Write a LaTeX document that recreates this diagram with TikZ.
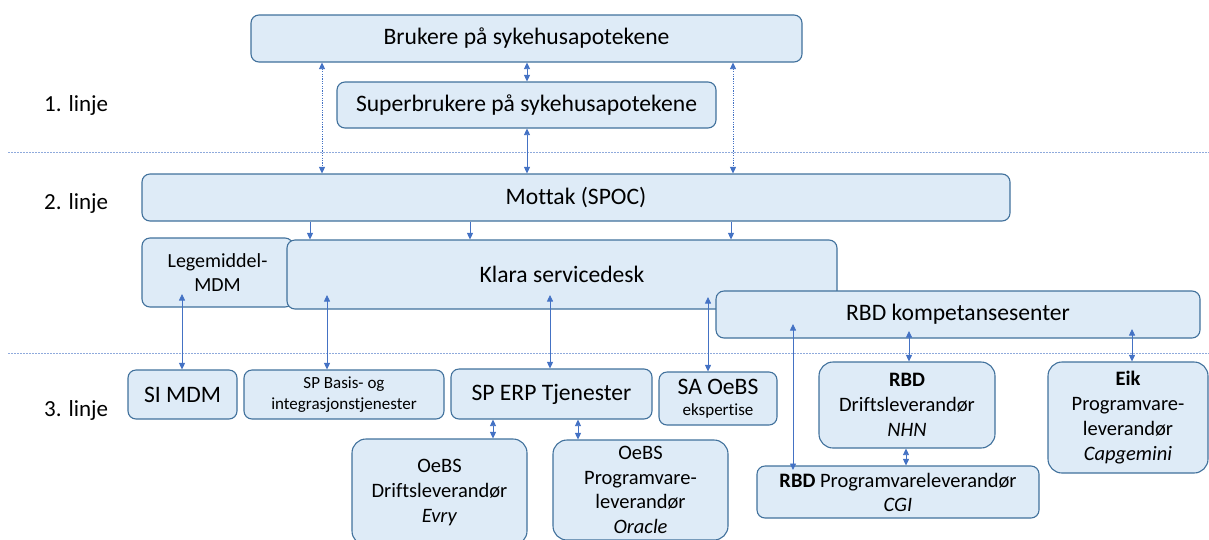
\documentclass[tikz,border=0pt]{standalone}
\usepackage{fontspec}
\setmainfont{Carlito}[Ligatures=NoCommon]
\usetikzlibrary{arrows.meta}
\definecolor{boxfill}{HTML}{DEEBF7}
\definecolor{boxdraw}{HTML}{41719C}
\definecolor{arr}{HTML}{4472C4}
\definecolor{sepc}{HTML}{8FAADC}
\begin{document}
\begin{tikzpicture}[x=1pt,y=-1pt,
  box/.style={draw=boxdraw, fill=boxfill, line width=1.1pt, rounded corners=8pt,
    align=center, inner sep=0pt, font=\fontsize{23.6}{27}\selectfont},
  bigbox/.style={box, rounded corners=14pt, font=\fontsize{20.5}{25}\selectfont},
  link/.style={draw=arr, line width=0.8pt, >={Triangle[length=6.5pt,width=6pt]}},
  both/.style={link,<->},
  one/.style={link,->},
  dots/.style={dash pattern=on 1.2pt off 1.2pt},
  sepline/.style={draw=sepc, line width=0.8pt, dash pattern=on 1.5pt off 1.5pt},
  lbl/.style={anchor=west, inner sep=0pt, font=\fontsize{23}{27}\selectfont}
]
\useasboundingbox (0,0) rectangle (1209,539);
\clip (0,0) rectangle (1209,539);

% separators
\coordinate (s1a) at (8,152); \coordinate (s1b) at (1209,152);
\coordinate (s2a) at (8,353); \coordinate (s2b) at (1209,353);
\draw[sepline] (s1a) -- (s1b);
\draw[sepline] (s2a) -- (s2b);

% level labels
\node[lbl] (l1) at (44,105) {1. linje};
\node[lbl] (l2) at (44,203) {2. linje};
\node[lbl] (l3) at (44,410) {3. linje};

% boxes
\node[box, minimum width=551pt, minimum height=47pt] (bru) at (526.5,38.5) {Brukere på sykehusapotekene};
\node[box, minimum width=379pt, minimum height=46pt] (sup) at (526.5,105) {Superbrukere på sykehusapotekene};
\node[box, minimum width=868pt, minimum height=47pt] (mot) at (576,197.5) {Mottak (SPOC)};
\node[box, minimum width=151pt, minimum height=69pt, font=\fontsize{20}{24}\selectfont] (leg) at (217.5,272.5) {Legemiddel-\\MDM};
\node[box, minimum width=550pt, minimum height=69pt] (kla) at (562,274.5) {Klara servicedesk};
\node[box, minimum width=484pt, minimum height=47pt] (rbdk) at (958,314.5) {RBD kompetansesenter};

\node[box, minimum width=109pt, minimum height=49pt] (simdm) at (182.5,394.5) {SI MDM};
\node[box, minimum width=200pt, minimum height=49pt, font=\fontsize{17}{21}\selectfont] (spb) at (344,394.5) {SP Basis- og\\integrasjonstjenester};
\node[box, minimum width=201pt, minimum height=50pt] (erp) at (551.5,394) {SP ERP Tjenester};
\node[box, minimum width=118pt, minimum height=53pt, font=\fontsize{23.6}{21}\selectfont] (sa) at (718,398.5) {SA OeBS\\{\fontsize{17}{21}\selectfont ekspertise}};

\node[bigbox, minimum width=176pt, minimum height=86pt] (rbdd) at (907,405) {\textbf{RBD}\\Driftsleverandør\\\textit{NHN}};
\node[bigbox, minimum width=160pt, minimum height=111pt] (eik) at (1128,417.5) {\textbf{Eik}\\Programvare-\\leverandør\\\textit{Capgemini}};
\node[box, minimum width=282pt, minimum height=52pt, font=\fontsize{20.5}{24}\selectfont] (cgi) at (898,492) {\textbf{RBD} Programvareleverandør\\\textit{CGI}};
\node[bigbox, minimum width=175pt, minimum height=106pt] (evry) at (439.5,492) {OeBS\\Driftsleverandør\\\textit{Evry}};
\node[bigbox, minimum width=175pt, minimum height=100pt, font=\fontsize{20.5}{24.5}\selectfont] (ora) at (640.5,490) {OeBS\\Programvare-\\leverandør\\\textit{Oracle}};

% level 1 <-> 2 connectors
\draw[both, dots] (bru.south -| 322,0) -- (mot.north -| 322,0);
\draw[both, dots] (bru.south -| 733,0) -- (mot.north -| 733,0);
\draw[both] (bru.south -| 527,0) -- (sup.north -| 527,0);
\draw[both] (sup.south -| 527,0) -- (mot.north -| 527,0);

% Mottak -> Klara
\draw[one] (mot.south -| 310,0) -- (kla.north -| 310,0);
\draw[one] (mot.south -| 470,0) -- (kla.north -| 470,0);
\draw[one] (mot.south -| 731,0) -- (kla.north -| 731,0);

% level 2 <-> 3
\coordinate (cleg) at (182,294);
\coordinate (ckla1) at (327,295);
\coordinate (ckla2) at (550,295);
\coordinate (ckla3) at (708,297);
\coordinate (crb1) at (793,324);
\coordinate (crb2) at (909,331);
\coordinate (crb3) at (1132,329);
\coordinate (ccgi) at (793,470);
\draw[both] (cleg) -- (simdm.north -| cleg);
\draw[both] (ckla1) -- (spb.north -| ckla1);
\draw[both] (ckla2) -- (erp.north -| ckla2);
\draw[both] (ckla3) -- (sa.north -| ckla3);
\draw[both] (crb1) -- (ccgi);
\draw[both] (crb2) -- (rbdd.north -| crb2);
\draw[both] (crb3) -- (eik.north -| crb3);

% within level 3
\draw[both] (erp.south -| 493,0) -- (evry.north -| 493,0);
\draw[both] (erp.south -| 578,0) -- (ora.north -| 578,0);
\draw[both] (rbdd.south -| 906,0) -- (cgi.north -| 906,0);
\end{tikzpicture}
\end{document}
